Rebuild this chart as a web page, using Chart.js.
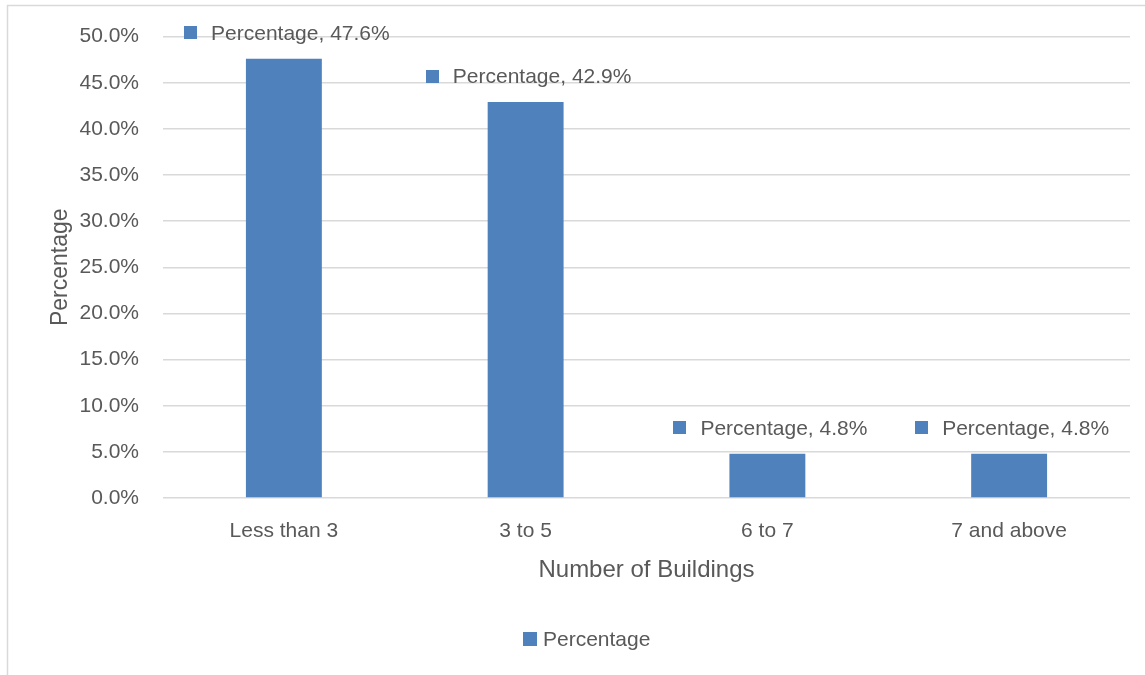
<!DOCTYPE html>
<html>
<head>
<meta charset="utf-8">
<script src="https://cdn.jsdelivr.net/npm/chart.js@4.4.1/dist/chart.umd.min.js"></script>
<style>
  html, body { margin: 0; padding: 0; background: #ffffff; }
  #wrap { position: relative; width: 1145px; height: 675px; }
  canvas { display: block; }
</style>
</head>
<body>
<div id="wrap"><canvas id="c" width="1145" height="675"></canvas></div>
<script>
const categories = ["Less than 3", "3 to 5", "6 to 7", "7 and above"];
const seriesName = "Percentage";
const percentages = [47.6, 42.9, 4.8, 4.8];
const yTickMin = 0;
const yTickMax = 50;
const yTickStep = 5;
const xAxisTitle = "Number of Buildings";
const yAxisTitle = "Percentage";

const FONT = "'Liberation Sans', Arial, sans-serif";
const TEXT = "#595959";
const BAR = "#4f81bd";
const GRID = "#d9d9d9";

const extras = {
  id: 'extras',
  beforeDraw(chart) {
    const ctx = chart.ctx;
    ctx.save();
    ctx.strokeStyle = GRID;
    ctx.lineWidth = 1.5;
    ctx.beginPath();
    ctx.moveTo(7.5, 675);
    ctx.lineTo(7.5, 5.5);
    ctx.lineTo(1145, 5.5);
    ctx.stroke();
    ctx.restore();
  },
  afterDatasetsDraw(chart) {
    const ctx = chart.ctx;
    const meta = chart.getDatasetMeta(0);
    const ds = chart.data.datasets[0];
    ctx.save();
    ctx.font = "21px " + FONT;
    ctx.textBaseline = 'middle';
    ctx.textAlign = 'left';
    meta.data.forEach((bar, i) => {
      const txt = ds.label + ", " + ds.data[i].toFixed(1) + "%";
      const tw = ctx.measureText(txt).width;
      const groupW = 13 + 14 + tw;
      const left = bar.x + 3 - groupW / 2;
      const cy = bar.y - 26;
      ctx.fillStyle = BAR;
      ctx.fillRect(Math.round(left), Math.round(cy - 6.5), 13, 13);
      ctx.fillStyle = TEXT;
      ctx.fillText(txt, left + 27, cy + 1);
    });
    // legend
    const lx = 523, ly = 639;
    ctx.fillStyle = BAR;
    ctx.fillRect(lx, ly - 7, 14, 14);
    ctx.fillStyle = TEXT;
    ctx.fillText(ds.label, lx + 20, ly + 1);
    ctx.restore();
  }
};

new Chart(document.getElementById('c'), {
  type: 'bar',
  data: {
    labels: categories,
    datasets: [{
      label: seriesName,
      data: percentages,
      backgroundColor: BAR,
      borderWidth: 0,
      barPercentage: 0.314,
      categoryPercentage: 1.0
    }]
  },
  options: {
    responsive: false,
    animation: false,
    devicePixelRatio: 1,
    layout: { padding: { left: 0, top: 32, right: 15, bottom: 0 } },
    plugins: {
      legend: { display: false },
      tooltip: { enabled: false },
      title: { display: false }
    },
    scales: {
      x: {
        grid: { display: false, drawTicks: false },
        border: { display: false },
        ticks: { color: TEXT, font: { family: FONT, size: 21 }, padding: 21, maxRotation: 0 },
        title: {
          display: true, text: xAxisTitle, color: TEXT,
          font: { family: FONT, size: 24 }, padding: { top: 0, bottom: 90 }
        },
        afterFit(scale) { scale.height = 177; }
      },
      y: {
        min: yTickMin, max: yTickMax,
        grid: { color: GRID, lineWidth: 1.5, drawTicks: false },
        border: { display: false },
        ticks: {
          stepSize: yTickStep, color: TEXT, padding: 24,
          font: { family: FONT, size: 21 },
          callback: v => Number(v).toFixed(1) + '%'
        },
        title: {
          display: true, text: yAxisTitle, color: TEXT,
          font: { family: FONT, size: 23 }, padding: { top: 47, bottom: 0 }
        },
        afterFit(scale) { scale.width = 163; }
      }
    }
  },
  plugins: [extras]
});
</script>
</body>
</html>
